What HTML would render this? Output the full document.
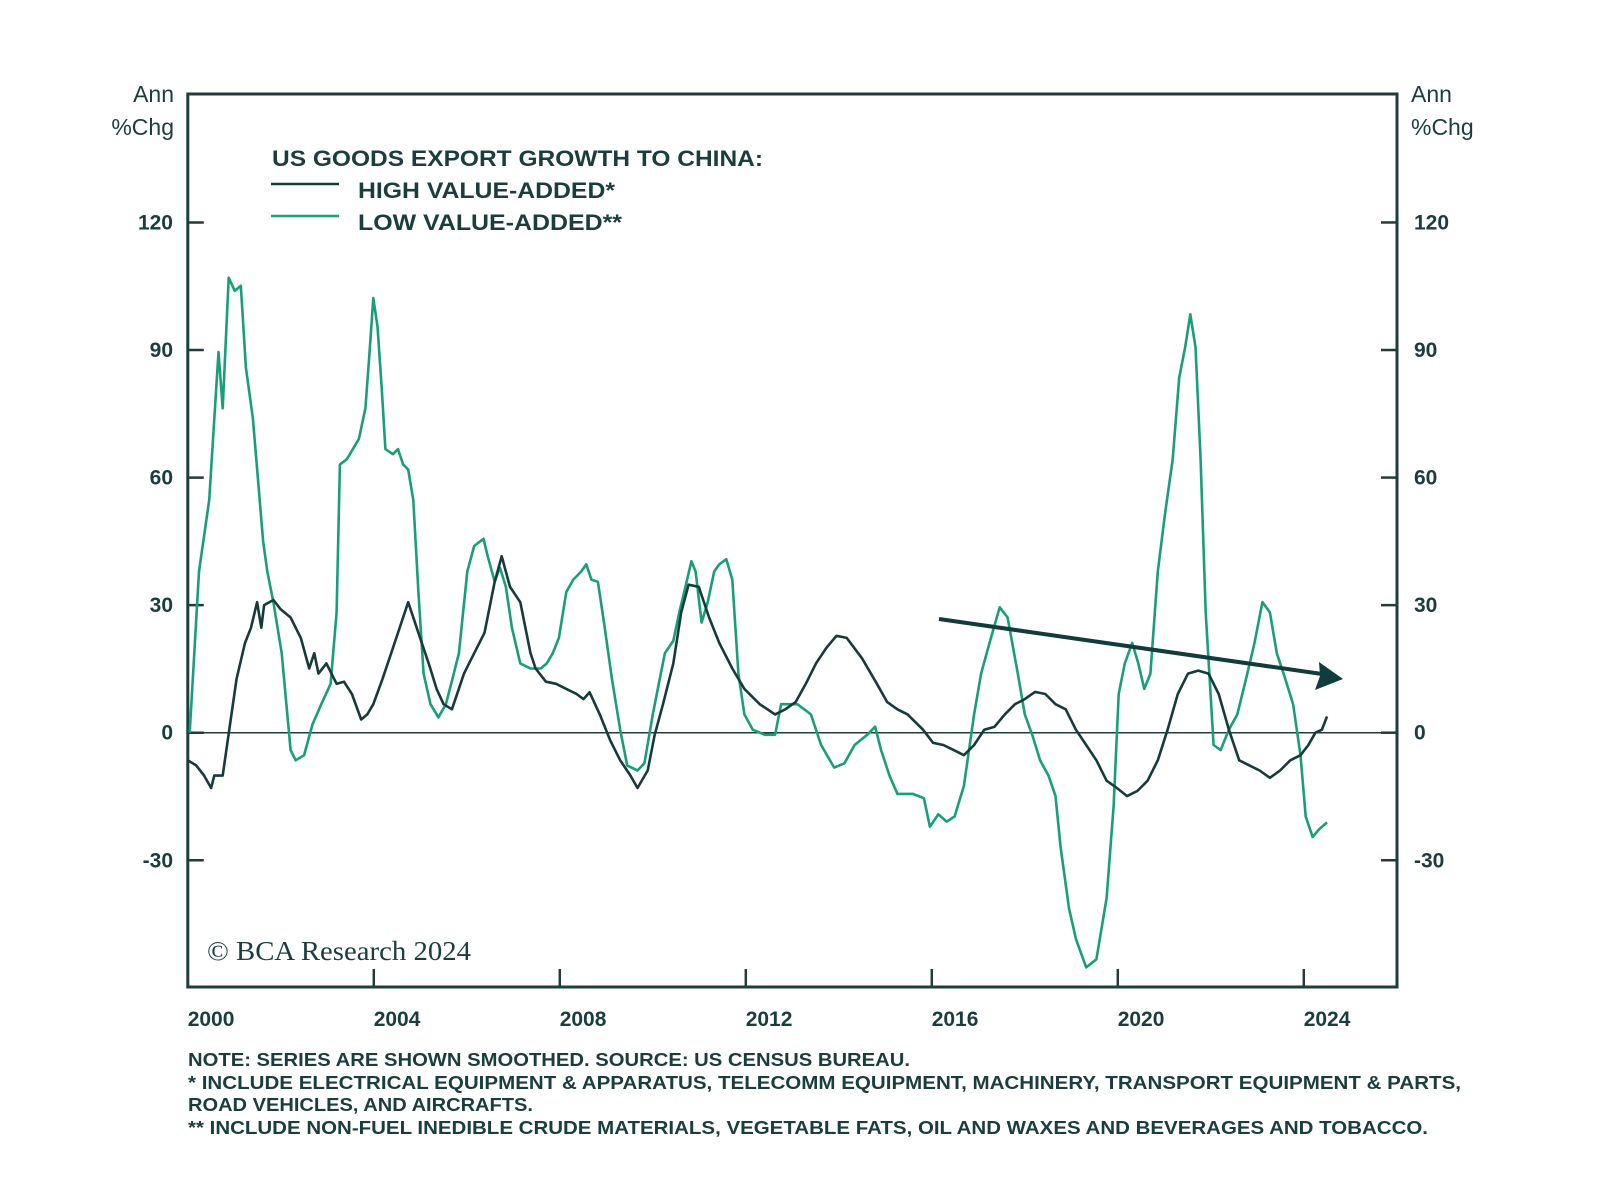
<!DOCTYPE html>
<html><head><meta charset="utf-8"><style>
html,body{margin:0;padding:0;background:#fff;}
svg{display:block;font-family:"Liberation Sans",sans-serif;}
</style></head><body>
<svg id="chart" width="1600" height="1195" viewBox="0 0 1600 1195">
<g id="axes"></g><g id="series"></g>
<line x1="939" y1="619" x2="1322" y2="674" stroke="#123b3b" stroke-width="4"/>
<polygon points="1343,679 1315,690 1320,676 1319,662" fill="#123b3b"/>
<text x="272" y="166" font-size="22" font-weight="bold" fill="#1a3d3d" textLength="491" lengthAdjust="spacingAndGlyphs">US GOODS EXPORT GROWTH TO CHINA:</text>
<line x1="271" y1="184" x2="339" y2="184" stroke="#173a3a" stroke-width="2.5"/>
<text x="358" y="198" font-size="22" font-weight="bold" fill="#1a3d3d" textLength="257" lengthAdjust="spacingAndGlyphs">HIGH VALUE-ADDED*</text>
<line x1="271" y1="216" x2="339" y2="216" stroke="#1a9e7a" stroke-width="2.5"/>
<text x="358" y="230" font-size="22" font-weight="bold" fill="#1a3d3d" textLength="264" lengthAdjust="spacingAndGlyphs">LOW VALUE-ADDED**</text>
<text x="207" y="960" font-size="27" font-family="Liberation Serif,serif" fill="#1a3d3d" textLength="264" lengthAdjust="spacingAndGlyphs">© BCA Research 2024</text>
<g font-size="18" font-weight="bold" fill="#1a3d3d">
<text x="188" y="1066" textLength="722" lengthAdjust="spacingAndGlyphs">NOTE: SERIES ARE SHOWN SMOOTHED. SOURCE: US CENSUS BUREAU.</text>
<text x="188" y="1089" textLength="1273" lengthAdjust="spacingAndGlyphs">* INCLUDE ELECTRICAL EQUIPMENT &amp; APPARATUS, TELECOMM EQUIPMENT, MACHINERY, TRANSPORT EQUIPMENT &amp; PARTS,</text>
<text x="188" y="1111" textLength="345" lengthAdjust="spacingAndGlyphs">ROAD VEHICLES, AND AIRCRAFTS.</text>
<text x="188" y="1134" textLength="1240" lengthAdjust="spacingAndGlyphs">** INCLUDE NON-FUEL INEDIBLE CRUDE MATERIALS, VEGETABLE FATS, OIL AND WAXES AND BEVERAGES AND TOBACCO.</text>
</g>
</svg>
<script>
const yTicks=[120,90,60,30,0,-30];
const xTicks=[2000,2004,2008,2012,2016,2020,2024];
const lowYears=[2000.04,2000.24,2000.46,2000.66,2000.75,2000.88,2001.01,2001.14,2001.25,2001.40,2001.62,2001.71,2001.84,2002.02,2002.21,2002.32,2002.50,2002.68,2002.87,2003.07,2003.20,2003.27,2003.42,2003.55,2003.68,2003.82,2003.90,2003.99,2004.08,2004.17,2004.25,2004.41,2004.52,2004.63,2004.74,2004.85,2004.96,2005.07,2005.22,2005.39,2005.55,2005.72,2005.83,2006.01,2006.16,2006.36,2006.45,2006.60,2006.71,2006.84,2006.97,2007.15,2007.37,2007.59,2007.72,2007.85,2007.98,2008.14,2008.29,2008.46,2008.57,2008.68,2008.82,2008.95,2009.12,2009.30,2009.45,2009.67,2009.82,2010.00,2010.13,2010.26,2010.44,2010.57,2010.70,2010.83,2010.92,2011.05,2011.18,2011.32,2011.43,2011.58,2011.71,2011.84,2011.97,2012.15,2012.41,2012.63,2012.76,2012.89,2013.11,2013.40,2013.62,2013.90,2014.12,2014.34,2014.61,2014.78,2014.91,2015.09,2015.26,2015.59,2015.83,2015.96,2016.14,2016.32,2016.49,2016.69,2016.91,2017.06,2017.24,2017.46,2017.63,2017.85,2018.00,2018.16,2018.33,2018.51,2018.66,2018.77,2018.95,2019.10,2019.32,2019.54,2019.76,2019.91,2020.02,2020.15,2020.31,2020.44,2020.57,2020.70,2020.86,2021.01,2021.18,2021.32,2021.45,2021.56,2021.67,2021.78,2021.89,2022.06,2022.21,2022.39,2022.57,2022.76,2022.94,2023.11,2023.27,2023.42,2023.60,2023.77,2023.93,2024.04,2024.19,2024.34,2024.50];
const lowValues=[0,37.9,54.7,89.5,76.3,107,103.9,105.1,85.9,73.9,45.1,37.9,30.7,18.7,-4.1,-6.5,-5.3,1.9,6.7,11.5,28.3,63.1,64.3,66.7,69.1,76.3,88.3,102.2,95.5,81.1,66.7,65.5,66.7,63.1,61.9,54.7,33.1,13.9,6.7,3.6,6.7,13.9,18.7,37.9,43.9,45.6,41.5,35.5,38.9,34.3,24.7,16.3,15.1,15.1,16.3,18.7,22.3,33.1,36.0,37.9,39.6,36.0,35.5,25.9,12.7,0.7,-7.7,-8.9,-7.2,4.3,11.5,18.7,21.6,28.3,34.3,40.3,37.9,25.9,30.7,37.9,39.6,40.8,36.0,13.9,4.3,0.7,-0.5,-0.5,6.7,6.7,6.7,4.3,-2.9,-8.2,-7.2,-2.9,-0.5,1.4,-4.1,-10.1,-14.4,-14.4,-15.4,-22.1,-19.2,-20.9,-19.7,-12.5,4.3,13.9,21.1,29.5,27.1,13.9,4.3,-0.5,-6.5,-10.1,-14.9,-26.9,-41.3,-48.5,-55.2,-53.3,-38.9,-17.3,9.1,16.3,21.1,16.3,10.3,13.9,37.9,51.1,64.3,83.5,90.7,98.4,90.7,64.3,28.3,-2.9,-4.1,0.7,4.3,12.7,21.1,30.7,28.3,18.7,12.7,6.7,-5.3,-19.7,-24.5,-22.6,-21.1];
const highYears=[2000.00,2000.18,2000.35,2000.50,2000.57,2000.75,2000.90,2001.05,2001.23,2001.36,2001.49,2001.58,2001.64,2001.84,2002.00,2002.21,2002.43,2002.61,2002.72,2002.81,2002.98,2003.20,2003.36,2003.53,2003.73,2003.86,2003.99,2004.19,2004.41,2004.74,2004.96,2005.18,2005.35,2005.50,2005.68,2005.94,2006.16,2006.38,2006.60,2006.75,2006.93,2007.15,2007.37,2007.48,2007.70,2007.92,2008.14,2008.36,2008.51,2008.64,2008.86,2009.08,2009.30,2009.52,2009.67,2009.89,2010.04,2010.22,2010.44,2010.61,2010.77,2010.99,2011.21,2011.43,2011.71,2011.97,2012.30,2012.63,2012.85,2013.07,2013.29,2013.51,2013.73,2013.95,2014.17,2014.50,2014.82,2015.04,2015.26,2015.48,2015.81,2016.03,2016.25,2016.47,2016.69,2016.91,2017.13,2017.35,2017.57,2017.79,2018.00,2018.22,2018.44,2018.66,2018.88,2019.10,2019.32,2019.54,2019.76,2019.98,2020.20,2020.42,2020.64,2020.86,2021.07,2021.29,2021.51,2021.73,2021.95,2022.17,2022.39,2022.61,2022.83,2023.05,2023.27,2023.49,2023.71,2023.93,2024.10,2024.25,2024.39,2024.50];
const highValues=[-6.5,-7.7,-10.1,-13.0,-10.1,-10.1,1.4,12.7,21.1,24.7,30.7,24.7,30.0,31.2,29.0,27.1,22.3,15.1,18.7,13.9,16.3,11.5,12.0,9.1,3.1,4.3,6.7,12.7,19.9,30.7,23.5,16.3,10.3,6.7,5.5,13.9,18.7,23.5,35.5,41.5,34.3,30.7,18.7,15.1,12.0,11.5,10.3,9.1,7.9,9.5,4.3,-1.7,-6.5,-10.1,-13.0,-8.9,-0.5,6.7,16.3,28.3,34.8,34.3,27.1,21.1,15.1,10.3,6.7,4.3,5.5,7.2,11.5,16.3,19.9,22.8,22.3,17.5,11.5,7.2,5.5,4.3,0.7,-2.4,-2.9,-4.1,-5.3,-2.9,0.7,1.4,4.3,6.7,7.9,9.6,9.1,6.7,5.5,0.7,-2.9,-6.5,-11.3,-13.0,-14.9,-13.7,-11.3,-6.5,0.7,9.1,13.9,14.6,13.9,9.1,0.7,-6.5,-7.7,-8.9,-10.6,-8.9,-6.5,-5.3,-2.9,0,0.7,3.8];

const L=187.8,R=1397,T=94,B=987;
const X=y=>L+46.5*(y-2000);
const Y=v=>732.7-v*4.252;
const NS='http://www.w3.org/2000/svg';
const axes=document.getElementById('axes'),ser=document.getElementById('series');
function mk(tag,attrs,parent,txt){const e=document.createElementNS(NS,tag);for(const k in attrs)e.setAttribute(k,attrs[k]);if(txt!==undefined)e.textContent=txt;parent.appendChild(e);return e;}
const frame=mk('rect',{x:L,y:T,width:R-L,height:B-T,fill:'none',stroke:'#1f3d3d','stroke-width':3},axes);


const zl=mk('line',{x1:L,x2:R,y1:Y(0),y2:Y(0),stroke:'#1f3d3d','stroke-width':1.5},axes);


yTicks.forEach(v=>{
  const t1=mk('line',{x1:L,x2:L+16,y1:Y(v),y2:Y(v),stroke:'#1f3d3d','stroke-width':2.5},axes);
  
  
  const t2=mk('line',{x1:R-16,x2:R,y1:Y(v),y2:Y(v),stroke:'#1f3d3d','stroke-width':2.5},axes);
  
  
  const a=mk('text',{x:173,y:Y(v)+7,'text-anchor':'end','font-size':21,'font-weight':'bold',fill:'#1a3d3d'},axes,String(v));
  
  
  const b=mk('text',{x:1414,y:Y(v)+7,'font-size':21,'font-weight':'bold',fill:'#1a3d3d'},axes,String(v));
  
  
});
xTicks.forEach(yr=>{
  if(yr>2000){const t=mk('line',{x1:X(yr),x2:X(yr),y1:B-18,y2:B,stroke:'#1f3d3d','stroke-width':2.5},axes);
  
  }
  const l=mk('text',{x:X(yr+0.5),y:1026,'text-anchor':'middle','font-size':21,'font-weight':'bold',fill:'#1a3d3d'},axes,String(yr));
  
  
});
[[174,'end','left'],[1411,'start','right']].forEach(([x,anc,side])=>{
  const a=mk('text',{x:x,y:102,'text-anchor':anc,'font-size':23,fill:'#1a3d3d'},axes,'Ann');
  
  
  const b=mk('text',{x:x,y:135,'text-anchor':anc,'font-size':23,fill:'#1a3d3d'},axes,'%Chg');
  
  
});
function line(xs,vs,color,name){
  const d=xs.map((yr,i)=>(i?'L':'M')+X(yr).toFixed(1)+','+Y(vs[i]).toFixed(1)).join('');
  const p=mk('path',{d:d,fill:'none',stroke:color,'stroke-width':2.6,'stroke-linejoin':'round'},ser);
  
  
}
line(lowYears,lowValues,'#1a9e7a','low-value-added-line');
line(highYears,highValues,'#173a3a','high-value-added-line');
</script>
</body></html>
